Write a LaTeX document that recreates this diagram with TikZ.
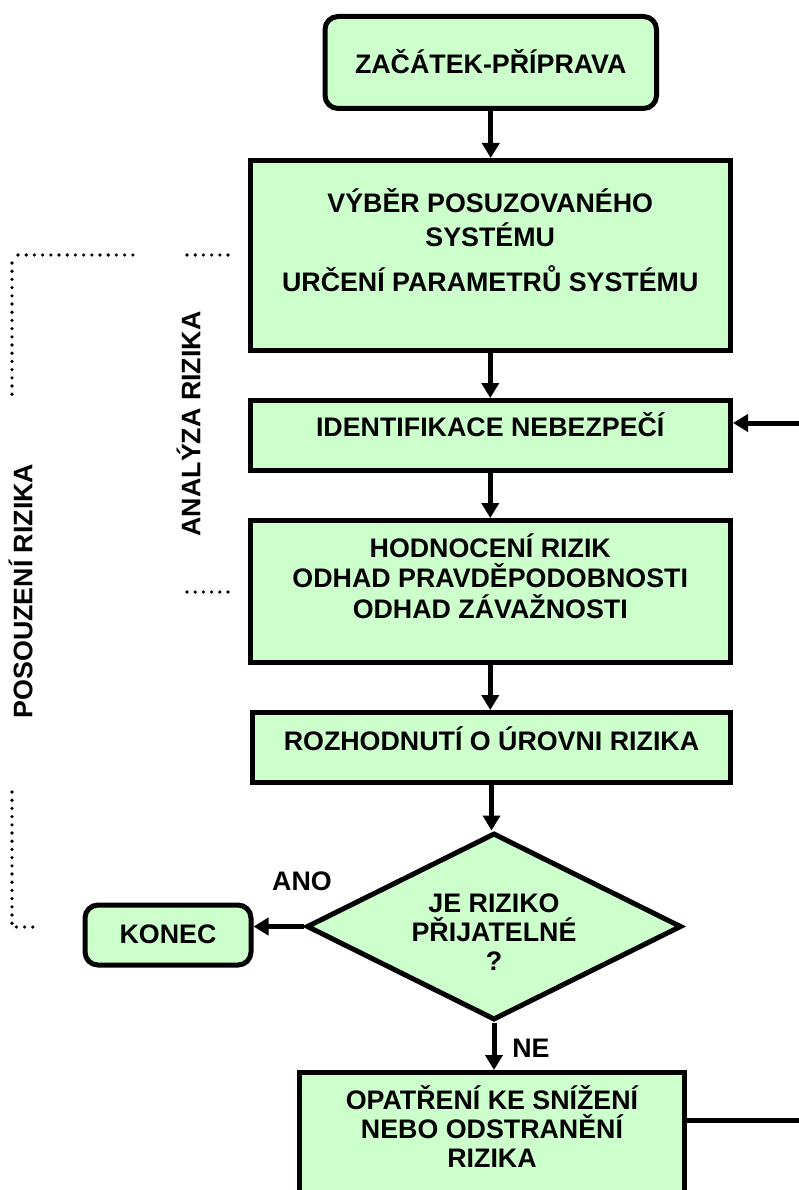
\documentclass[tikz,border=0pt]{standalone}
\usepackage{fontspec}
\setmainfont{Liberation Sans}
\usetikzlibrary{shapes.geometric,arrows.meta,calc}
\definecolor{boxgreen}{HTML}{CCFFCC}
\begin{document}
\begin{tikzpicture}[x=1pt,y=-1pt,
  box/.style={draw, line width=5pt, fill=boxgreen, inner sep=0pt},
  rbox/.style={box, rounded corners=13pt},
  dbox/.style={box, shape=diamond},
  txt/.style={align=center, inner sep=0pt, font=\fontsize{26.8}{#1}\selectfont\bfseries},
  txt/.default=30,
  arr/.style={line width=5pt, -{Triangle[length=15pt,width=17pt]}},
  conn/.style={line width=5pt},
  dots/.style={line width=3.6pt, line cap=round, dash pattern=on 0pt off 8.2pt}
]
\useasboundingbox (0,0) rectangle (799,1190);
\clip (0,0) rectangle (799,1190);

% boxes
\node[rbox, minimum width=331.5pt, minimum height=92pt] (start) at (490.75,62.5) {};
\node[box, minimum width=480.5pt, minimum height=189.5pt] (sys) at (490.25,255.25) {};
\node[box, minimum width=480.5pt, minimum height=70pt] (ident) at (490.25,435.5) {};
\node[box, minimum width=480.5pt, minimum height=142pt] (hodn) at (490.25,591.5) {};
\node[box, minimum width=478pt, minimum height=70pt] (rozh) at (491.5,747.5) {};
\node[dbox, minimum width=375pt, minimum height=187pt] (dia) at (494,926.5) {};
\node[rbox, minimum width=166pt, minimum height=60pt] (konec) at (168,935) {};
\node[box, minimum width=385pt, minimum height=140pt] (opat) at (492,1142.5) {};

% texts
\node[txt] (tstart) at (490.75,61.4) {ZAČÁTEK-PŘÍPRAVA};
\node[txt=34] (tsys) at (490.25,239.9) {VÝBĚR POSUZOVANÉHO\\SYSTÉMU\\[11pt]URČENÍ PARAMETRŮ SYSTÉMU};
\node[txt] (tident) at (490.25,424.4) {IDENTIFIKACE NEBEZPEČÍ};
\node[txt=30.5] (thodn) at (490.25,575.9) {HODNOCENÍ RIZIK\\ODHAD PRAVDĚPODOBNOSTI\\ODHAD ZÁVAŽNOSTI};
\node[txt] (trozh) at (491.5,738.4) {ROZHODNUTÍ O ÚROVNI RIZIKA};
\node[txt=29] (tdia) at (494,932) {JE RIZIKO\\PŘIJATELNÉ\\?};
\node[txt] (tkonec) at (168,934) {KONEC};
\node[txt=29] (topat) at (492,1126.4) {OPATŘENÍ KE SNÍŽENÍ\\NEBO ODSTRANĚNÍ\\RIZIKA};
\node[txt] (tano) at (302,881) {ANO};
\node[txt] (tne) at (531,1048) {NE};
\node[txt, rotate=90] (tanal) at (188.4,424) {ANALÝZA RIZIKA};
\node[txt, rotate=90] (tposo) at (20.7,591) {POSOUZENÍ RIZIKA};

% connectors
\draw[arr] (start.south) -- (start.south |- sys.north);
\draw[arr] (sys.south) -- (sys.south |- ident.north);
\draw[arr] (ident.south) -- (ident.south |- hodn.north);
\draw[arr] (hodn.south) -- (hodn.south |- rozh.north);
\draw[arr] (rozh.south) -- (rozh.south |- dia.north);
\draw[arr] (dia.west) -- (dia.west -| konec.east);
\draw[arr] (dia.south) -- (dia.south |- opat.north);
\coordinate (fbin) at (801,423);
\coordinate (fbout) at (801,1120);
\draw[arr] (fbin) -- (fbin -| ident.east);
\draw[conn] (fbout -| opat.east) -- (fbout);

% dotted brackets
\draw[dots] (18,255) -- (133,255);
\draw[dots] (12,263) -- (12,400);
\draw[dots] (187,255) -- (230,255);
\draw[dots] (187,592) -- (230,592);
\draw[dots] (12,792) -- (12,927) -- (37,927);
\end{tikzpicture}
\end{document}
